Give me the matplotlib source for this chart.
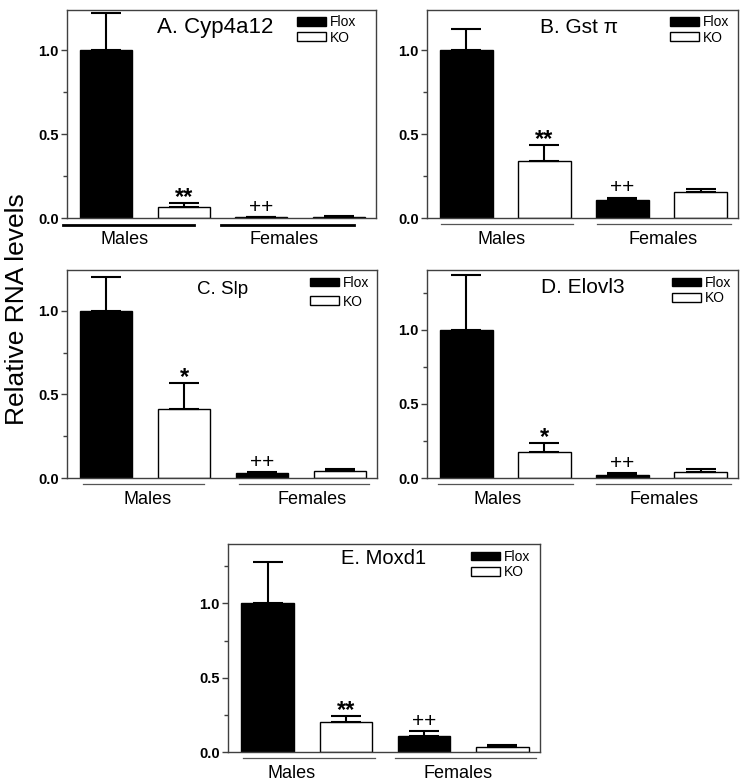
import matplotlib.pyplot as plt
from matplotlib.transforms import blended_transform_factory
from matplotlib.ticker import MultipleLocator

plt.rcParams['font.family'] = ['Liberation Sans', 'DejaVu Sans']

# Data (relative RNA levels, mean and upper SE)
titles = ['A. Cyp4a12', 'B. Gst \u03c0', 'C. Slp', 'D. Elovl3', 'E. Moxd1']
flox_males = [1.0, 1.0, 1.0, 1.0, 1.0]
ko_males = [0.065, 0.337, 0.413, 0.174, 0.205]
flox_females = [0.004, 0.11, 0.028, 0.02, 0.106]
ko_females = [0.008, 0.156, 0.042, 0.043, 0.032]

flox_males_err = [0.22, 0.124, 0.205, 0.37, 0.28]
ko_males_err = [0.025, 0.096, 0.154, 0.06, 0.035]
flox_females_err = [0.003, 0.012, 0.008, 0.012, 0.036]
ko_females_err = [0.004, 0.014, 0.012, 0.016, 0.015]

sig_ko_males = ['**', '**', '*', '*', '**']
sig_flox_females = ['++', '++', '++', '++', '++']
y_tops = [1.24, 1.24, 1.245, 1.405, 1.40]

groups = ['Males', 'Females']
series = ['Flox', 'KO']

# Layout (pixels in a 747x783 figure): left, top, right, bottom
W, H = 747, 783
boxes = [(67, 10, 376, 218), (427, 10, 738, 218), (67, 270, 377, 478),
         (427, 270, 738, 478), (228, 544, 540, 752)]
title_pos = [(0.479, 0.918, 16), (0.489, 0.918, 15), (0.503, 0.904, 13.5),
             (0.50, 0.915, 15), (0.497, 0.928, 14.5)]
legend_pos = [(0.744, 0.975, 0.1), (0.781, 0.975, 0.1), (0.784, 0.972, 0.35),
              (0.788, 0.972, 0.12), (0.779, 0.972, 0.12)]
males_x = [0.24, 0.455, 0.53, 0.405, 0.31]
females_x = [2.29, 2.52, 2.65, 2.53, 2.43]
male_lines = [(-0.56, 1.13), (-0.33, 1.37), (-0.30, 1.25), (-0.36, 1.37), (-0.31, 1.37)]
female_lines = [(1.48, 3.20), (1.67, 3.39), (1.71, 3.38), (1.66, 3.39), (1.63, 3.43)]

fig = plt.figure(figsize=(W / 100, H / 100), dpi=100)

for i in range(5):
    l, t, r, b = boxes[i]
    ax = fig.add_axes([l / W, 1 - b / H, (r - l) / W, (b - t) / H])

    x = [0, 1, 2, 3]
    vals = [flox_males[i], ko_males[i], flox_females[i], ko_females[i]]
    errs = [flox_males_err[i], ko_males_err[i], flox_females_err[i], ko_females_err[i]]
    colors = ['black', 'white', 'black', 'white']

    bars = ax.bar(x, vals, width=0.67, color=colors, edgecolor='black', linewidth=1.0, zorder=2)
    ax.errorbar(x, vals, yerr=[[0] * 4, errs], fmt='none', ecolor='black',
                elinewidth=1.5, capsize=11, capthick=1.5, zorder=3)

    # significance marks
    ax.annotate(sig_ko_males[i], (1, vals[1] + errs[1]), xytext=(0, -0.5),
                textcoords='offset points', ha='center', va='baseline',
                fontsize=17, fontweight='bold')
    ax.annotate(sig_flox_females[i], (2, vals[2] + errs[2]), xytext=(0, 3),
                textcoords='offset points', ha='center', va='baseline', fontsize=15)

    ax.set_xlim(-0.505, 3.48)
    ax.set_ylim(0, y_tops[i])
    ax.set_xticks([])
    ax.yaxis.set_major_locator(MultipleLocator(0.5))
    ax.yaxis.set_minor_locator(MultipleLocator(0.25))
    ax.set_yticklabels([f'{v:.1f}' for v in ax.get_yticks()])
    ax.tick_params(axis='y', which='major', length=4.5, width=1, pad=1.5,
                   labelsize=10.5, color='#404040')
    ax.tick_params(axis='y', which='minor', length=3, width=1, color='#404040')
    for lab in ax.get_yticklabels():
        lab.set_fontweight('bold')
    for sp in ax.spines.values():
        sp.set_color('#404040')
        sp.set_linewidth(1.0)

    tx, ty, ts = title_pos[i]
    ax.text(tx, ty, titles[i], transform=ax.transAxes, ha='center', va='center', fontsize=ts)

    lx, ly, ls = legend_pos[i]
    ax.legend([bars[0], bars[1]], series, loc='upper left', bbox_to_anchor=(lx, ly),
              frameon=False, fontsize=10, handlelength=2.1, handleheight=0.6,
              handletextpad=0.25, labelspacing=ls, borderpad=0, borderaxespad=0)

    # group underlines and labels
    trans = blended_transform_factory(ax.transData, ax.transAxes)
    h_px = b - t
    if i == 0:
        line_kw = dict(color='black', lw=2.0)
        ly_line = -7 / h_px
    else:
        line_kw = dict(color='#555555', lw=0.9)
        ly_line = -6 / h_px
    for seg in [male_lines[i], female_lines[i]]:
        ax.plot(seg, [ly_line, ly_line], transform=trans, clip_on=False, **line_kw)
    ax.text(males_x[i], -21 / h_px, groups[0], transform=trans, ha='center', va='center', fontsize=13)
    ax.text(females_x[i], -21 / h_px, groups[1], transform=trans, ha='center', va='center', fontsize=13)

fig.text(17 / W, 1 - 309.5 / H, 'Relative RNA levels', rotation=90,
         ha='center', va='center', fontsize=19)

fig.savefig('out.png', dpi=100)
